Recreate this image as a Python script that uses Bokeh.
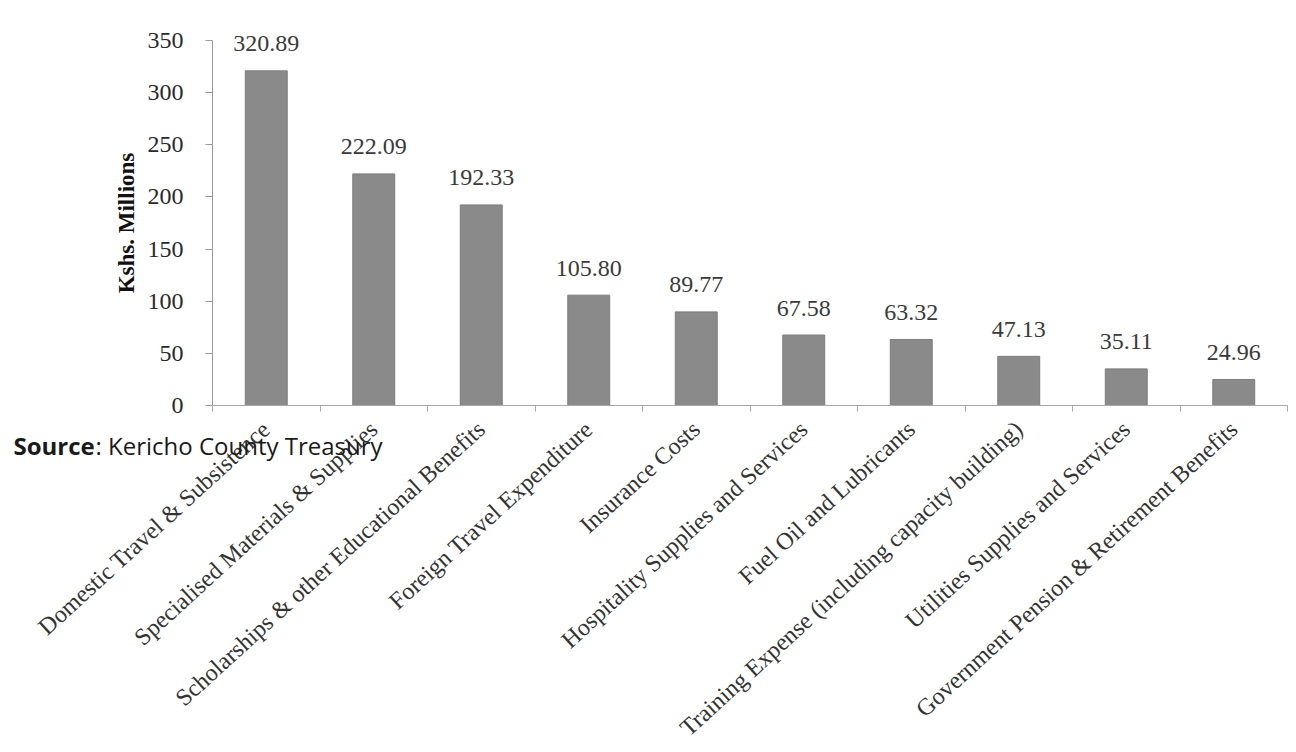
import math
from bokeh.plotting import figure
from bokeh.models import (ColumnDataSource, FixedTicker, Label, Range1d,
                          LinearAxis)
from bokeh.core.properties import value
from bokeh.embed import file_html
from bokeh.resources import INLINE

categories = [
    "Domestic Travel & Subsistence",
    "Specialised Materials & Supplies",
    "Scholarships & other Educational Benefits",
    "Foreign Travel Expenditure",
    "Insurance Costs",
    "Hospitality Supplies and Services",
    "Fuel Oil and Lubricants",
    "Training Expense (including capacity building)",
    "Utilities Supplies and Services",
    "Government Pension & Retirement Benefits",
]
values = [320.89, 222.09, 192.33, 105.80, 89.77, 67.58, 63.32, 47.13, 35.11, 24.96]
y_ticks = [0, 50, 100, 150, 200, 250, 300, 350]

n = len(categories)
xs = [i + 0.5 for i in range(n)]
labels = ["%.2f" % v for v in values]
src = ColumnDataSource(dict(x=xs, top=values, label=labels))

SERIF = "Liberation Serif"

# page geometry
W, H = 1296, 752
ORG = 0                            # canvas origin on the page
axis_x, cell = 212, 107.5          # screen x of the value axis, width of a category
zero_y, top_y = 405, 40            # screen y of 0 and of 350
ppu = (zero_y - top_y) / 350.0
x0 = -(axis_x - ORG) / cell
x1 = x0 + W / cell
y1 = (zero_y - ORG) / ppu
y0 = y1 - H / ppu

p = figure(width=W, height=H, output_backend="svg", toolbar_location=None,
           x_range=Range1d(x0, x1), y_range=Range1d(y0, y1),
           x_axis_location=None, y_axis_location=None,
           min_border=0)
p.outline_line_color = None
p.grid.grid_line_color = None
p.background_fill_color = "white"
p.border_fill_color = "white"

p.vbar(x="x", top="top", width=0.39, source=src,
       fill_color="#8a8a8a", line_color="#7c7c7c", line_width=1)

p.text(x="x", y="top", text="label", source=src, y_offset=-27,
       text_align="center", text_baseline="alphabetic",
       text_font=value(SERIF), text_font_size="24px", text_color="#3a3a3a")

# y axis
ya = LinearAxis(fixed_location=0)
ya.ticker = FixedTicker(ticks=y_ticks)
ya.bounds = (0, 350)
ya.axis_line_color = "#9a9a9a"
ya.major_tick_line_color = "#9a9a9a"
ya.major_tick_out = 7
ya.major_tick_in = 0
ya.minor_tick_line_color = None
ya.major_label_standoff = 22
ya.major_label_text_font = SERIF
ya.major_label_text_font_size = "24px"
ya.major_label_text_color = "#2a2a2a"
ya.axis_label = "Kshs. Millions"
ya.axis_label_text_font = SERIF
ya.axis_label_text_font_size = "23px"
ya.axis_label_text_font_style = "bold"
ya.axis_label_text_color = "#111111"
ya.axis_label_standoff = 6
p.add_layout(ya, "left")

# x axis
xa = LinearAxis(fixed_location=0)
xa.ticker = FixedTicker(ticks=xs, minor_ticks=list(range(n + 1)))
xa.bounds = (0, n)
xa.axis_line_color = "#a8a8a8"
xa.major_tick_line_color = None
xa.major_tick_out = 0
xa.major_tick_in = 0
xa.minor_tick_line_color = "#a8a8a8"
xa.minor_tick_out = 6
xa.minor_tick_in = 0
xa.major_label_overrides = {x: c for x, c in zip(xs, categories)}
xa.major_label_orientation = 0.74
xa.major_label_standoff = 14
xa.major_label_text_font = SERIF
xa.major_label_text_font_size = "24px"
xa.major_label_text_color = "#333333"
p.add_layout(xa, "below")

# source note
sx = -(axis_x - 13) / cell
sy = -(445 - zero_y) / ppu
p.add_layout(Label(x=sx, y=sy, text="Source", text_font="Open Sans",
                   text_font_size="24px", text_font_style="bold",
                   text_color="#1a1a1a", text_baseline="middle"))
p.add_layout(Label(x=sx, y=sy, x_offset=82, text=": Kericho County Treasury",
                   text_font="Open Sans", text_font_size="24px",
                   text_color="#1a1a1a", text_baseline="middle"))

open("out.html", "w").write(file_html(p, INLINE))
